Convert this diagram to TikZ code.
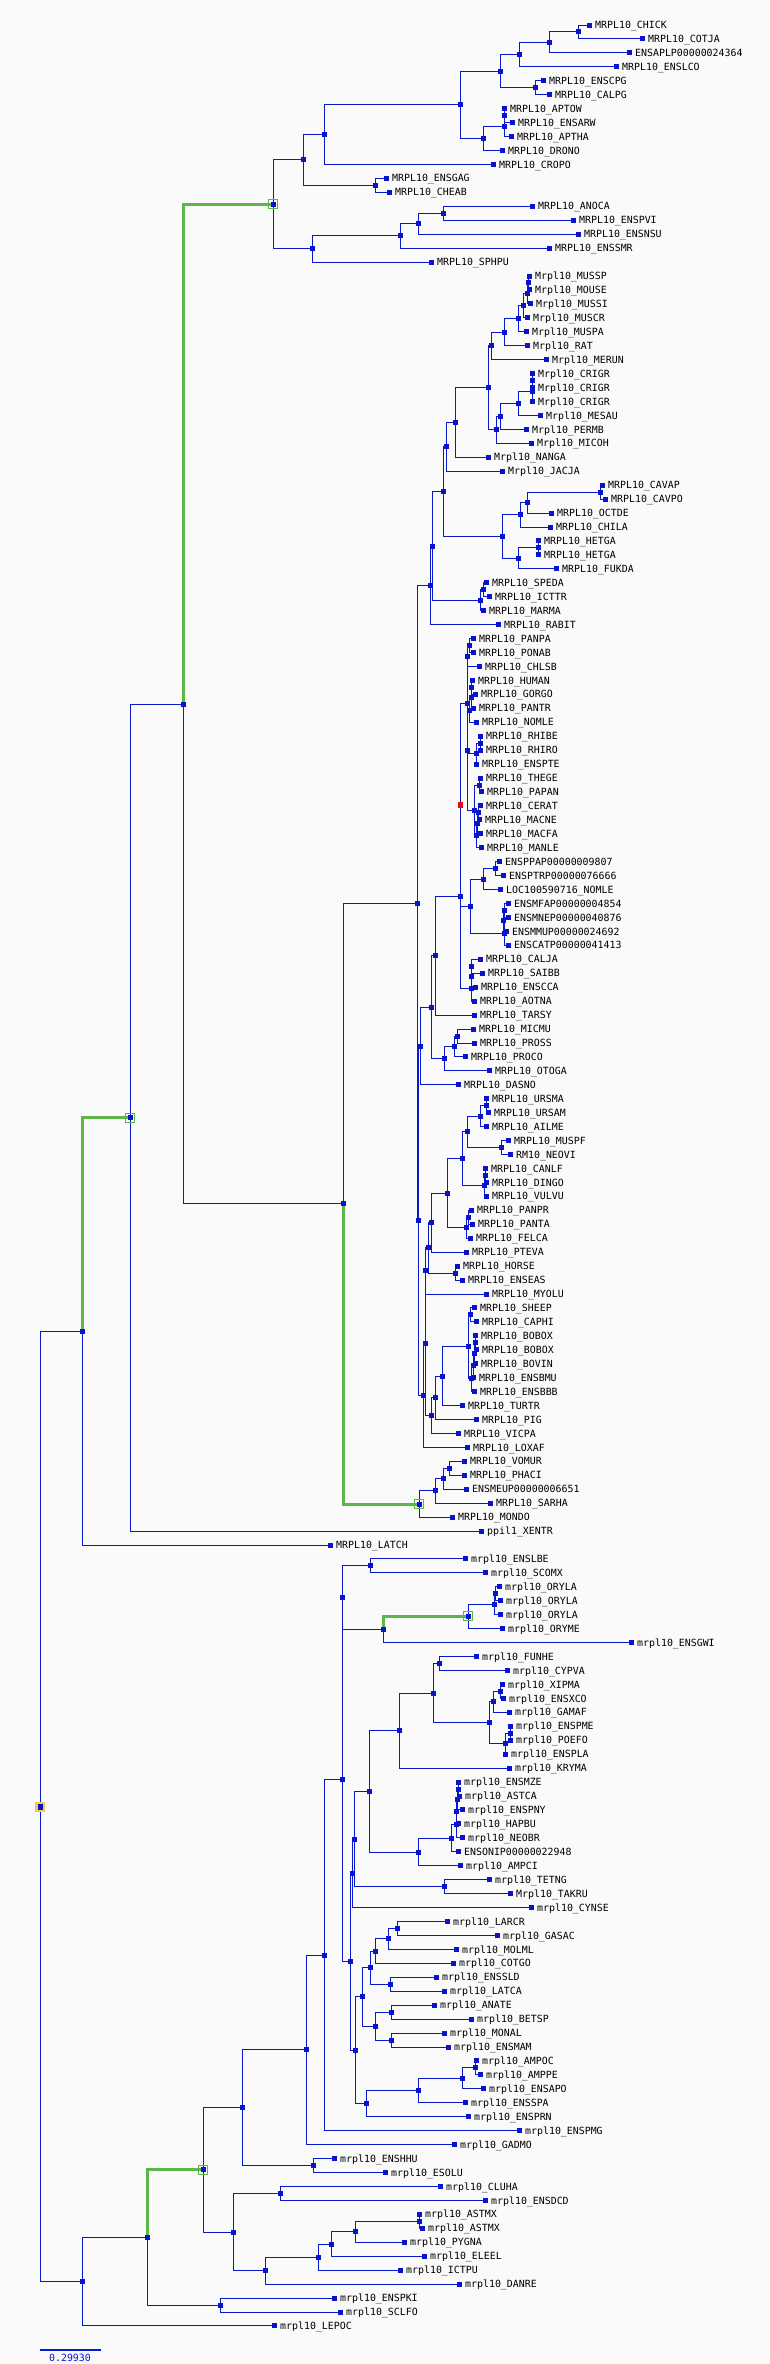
\documentclass[tikz,border=0pt]{standalone}
\usepackage{fontspec}
\newfontfamily\monof{DejaVu Sans Mono}
\pgfdeclarelayer{bg}
\pgfsetlayers{bg,main}
\definecolor{brc}{RGB}{8,24,204}
\definecolor{boxc}{RGB}{8,20,204}
\definecolor{grc}{RGB}{92,182,72}
\definecolor{bgc}{RGB}{250,250,250}
\definecolor{yelc}{RGB}{242,204,80}
\definecolor{redc}{RGB}{235,10,10}
\tikzset{
 br/.style={draw=brc, line width=1pt},
 gbr/.style={draw=grc, line width=3pt},
 nbox/.style={rectangle, fill=boxc, minimum width=5pt, minimum height=5pt, inner sep=0pt, outer sep=0pt},
 lab/.style={anchor=west, inner sep=0pt, font=\monof\fontsize{9.9}{10}\selectfont, text height=7.2pt, text depth=0pt, text=black},
}
\newcommand\leafnode[4]{%
 \expandafter\xdef\csname Y#1\endcsname{#3}%
 \node[nbox] (#1) at (#2,#3) {};%
 \node[lab] (#1t) at (#2+6,#3) {#4};%
}
\newcommand\innode[4]{%
 \edef\tmpa{\csname Y#3\endcsname}\edef\tmpb{\csname Y#4\endcsname}%
 \pgfmathsetmacro\tmpy{(\tmpa+\tmpb)/2}%
 \expandafter\xdef\csname Y#1\endcsname{\tmpy}%
 \node[nbox] (#1) at (#2,\tmpy) {};%
 \begin{pgfonlayer}{bg}\draw[br] (#1.center) |- (#3.center) (#1.center) |- (#4.center);\end{pgfonlayer}%
}
\newcommand\innodeY[5]{%
 \expandafter\xdef\csname Y#1\endcsname{#3}%
 \node[nbox] (#1) at (#2,#3) {};%
 \begin{pgfonlayer}{bg}\draw[br] (#1.center) |- (#4.center) (#1.center) |- (#5.center);\end{pgfonlayer}%
}
\newcommand\addedge[2]{\begin{pgfonlayer}{bg}\draw[br] (#1.center) |- (#2.center);\end{pgfonlayer}}
\newcommand\greenedge[2]{\begin{pgfonlayer}{bg}\draw[gbr] (#1.center) |- (#2.center);\end{pgfonlayer}}
\newcommand\gbox[1]{\node[draw=grc, line width=1pt, minimum size=9pt, inner sep=0pt] (#1g) at (#1.center) {};}
\begin{document}
\begin{tikzpicture}[x=1pt,y=-13.945pt]
\begin{pgfonlayer}{bg}\fill[bgc] (0pt,25pt) rectangle (770pt,-2339pt);\end{pgfonlayer}
\useasboundingbox (0pt,25pt) rectangle (770pt,-2339pt);
% leaves
\leafnode{L0}{589}{0}{MRPL10\_CHICK}
\leafnode{L1}{642}{1}{MRPL10\_COTJA}
\leafnode{L2}{629}{2}{ENSAPLP00000024364}
\leafnode{L3}{616}{3}{MRPL10\_ENSLCO}
\leafnode{L4}{543}{4}{MRPL10\_ENSCPG}
\leafnode{L5}{549}{5}{MRPL10\_CALPG}
\leafnode{L6}{504}{6}{MRPL10\_APTOW}
\leafnode{L7}{512}{7}{MRPL10\_ENSARW}
\leafnode{L8}{511}{8}{MRPL10\_APTHA}
\leafnode{L9}{502}{9}{MRPL10\_DRONO}
\leafnode{L10}{493}{10}{MRPL10\_CROPO}
\leafnode{L11}{386}{11}{MRPL10\_ENSGAG}
\leafnode{L12}{389}{12}{MRPL10\_CHEAB}
\leafnode{L13}{532}{13}{MRPL10\_ANOCA}
\leafnode{L14}{573}{14}{MRPL10\_ENSPVI}
\leafnode{L15}{578}{15}{MRPL10\_ENSNSU}
\leafnode{L16}{549}{16}{MRPL10\_ENSSMR}
\leafnode{L17}{431}{17}{MRPL10\_SPHPU}
\leafnode{L18}{529}{18}{Mrpl10\_MUSSP}
\leafnode{L19}{529}{19}{Mrpl10\_MOUSE}
\leafnode{L20}{530}{20}{Mrpl10\_MUSSI}
\leafnode{L21}{527}{21}{Mrpl10\_MUSCR}
\leafnode{L22}{526}{22}{Mrpl10\_MUSPA}
\leafnode{L23}{527}{23}{Mrpl10\_RAT}
\leafnode{L24}{546}{24}{Mrpl10\_MERUN}
\leafnode{L25}{532}{25}{Mrpl10\_CRIGR}
\leafnode{L26}{532}{26}{Mrpl10\_CRIGR}
\leafnode{L27}{532}{27}{Mrpl10\_CRIGR}
\leafnode{L28}{540}{28}{Mrpl10\_MESAU}
\leafnode{L29}{526}{29}{Mrpl10\_PERMB}
\leafnode{L30}{531}{30}{Mrpl10\_MICOH}
\leafnode{L31}{488}{31}{Mrpl10\_NANGA}
\leafnode{L32}{502}{32}{Mrpl10\_JACJA}
\leafnode{L33}{602}{33}{MRPL10\_CAVAP}
\leafnode{L34}{605}{34}{MRPL10\_CAVPO}
\leafnode{L35}{551}{35}{MRPL10\_OCTDE}
\leafnode{L36}{550}{36}{MRPL10\_CHILA}
\leafnode{L37}{538}{37}{MRPL10\_HETGA}
\leafnode{L38}{538}{38}{MRPL10\_HETGA}
\leafnode{L39}{556}{39}{MRPL10\_FUKDA}
\leafnode{L40}{486}{40}{MRPL10\_SPEDA}
\leafnode{L41}{489}{41}{MRPL10\_ICTTR}
\leafnode{L42}{483}{42}{MRPL10\_MARMA}
\leafnode{L43}{498}{43}{MRPL10\_RABIT}
\leafnode{L44}{473}{44}{MRPL10\_PANPA}
\leafnode{L45}{473}{45}{MRPL10\_PONAB}
\leafnode{L46}{479}{46}{MRPL10\_CHLSB}
\leafnode{L47}{472}{47}{MRPL10\_HUMAN}
\leafnode{L48}{475}{48}{MRPL10\_GORGO}
\leafnode{L49}{473}{49}{MRPL10\_PANTR}
\leafnode{L50}{476}{50}{MRPL10\_NOMLE}
\leafnode{L51}{480}{51}{MRPL10\_RHIBE}
\leafnode{L52}{480}{52}{MRPL10\_RHIRO}
\leafnode{L53}{476}{53}{MRPL10\_ENSPTE}
\leafnode{L54}{480}{54}{MRPL10\_THEGE}
\leafnode{L55}{481}{55}{MRPL10\_PAPAN}
\leafnode{L56}{480}{56}{MRPL10\_CERAT}
\leafnode{L57}{479}{57}{MRPL10\_MACNE}
\leafnode{L58}{480}{58}{MRPL10\_MACFA}
\leafnode{L59}{481}{59}{MRPL10\_MANLE}
\leafnode{L60}{499}{60}{ENSPPAP00000009807}
\leafnode{L61}{503}{61}{ENSPTRP00000076666}
\leafnode{L62}{500}{62}{LOC100590716\_NOMLE}
\leafnode{L63}{508}{63}{ENSMFAP00000004854}
\leafnode{L64}{508}{64}{ENSMNEP00000040876}
\leafnode{L65}{506}{65}{ENSMMUP00000024692}
\leafnode{L66}{508}{66}{ENSCATP00000041413}
\leafnode{L67}{480}{67}{MRPL10\_CALJA}
\leafnode{L68}{482}{68}{MRPL10\_SAIBB}
\leafnode{L69}{475}{69}{MRPL10\_ENSCCA}
\leafnode{L70}{474}{70}{MRPL10\_AOTNA}
\leafnode{L71}{474}{71}{MRPL10\_TARSY}
\leafnode{L72}{473}{72}{MRPL10\_MICMU}
\leafnode{L73}{474}{73}{MRPL10\_PROSS}
\leafnode{L74}{465}{74}{MRPL10\_PROCO}
\leafnode{L75}{489}{75}{MRPL10\_OTOGA}
\leafnode{L76}{458}{76}{MRPL10\_DASNO}
\leafnode{L77}{486}{77}{MRPL10\_URSMA}
\leafnode{L78}{488}{78}{MRPL10\_URSAM}
\leafnode{L79}{486}{79}{MRPL10\_AILME}
\leafnode{L80}{508}{80}{MRPL10\_MUSPF}
\leafnode{L81}{510}{81}{RM10\_NEOVI}
\leafnode{L82}{485}{82}{MRPL10\_CANLF}
\leafnode{L83}{486}{83}{MRPL10\_DINGO}
\leafnode{L84}{486}{84}{MRPL10\_VULVU}
\leafnode{L85}{471}{85}{MRPL10\_PANPR}
\leafnode{L86}{472}{86}{MRPL10\_PANTA}
\leafnode{L87}{470}{87}{MRPL10\_FELCA}
\leafnode{L88}{466}{88}{MRPL10\_PTEVA}
\leafnode{L89}{457}{89}{MRPL10\_HORSE}
\leafnode{L90}{462}{90}{MRPL10\_ENSEAS}
\leafnode{L91}{486}{91}{MRPL10\_MYOLU}
\leafnode{L92}{474}{92}{MRPL10\_SHEEP}
\leafnode{L93}{476}{93}{MRPL10\_CAPHI}
\leafnode{L94}{475}{94}{MRPL10\_BOBOX}
\leafnode{L95}{476}{95}{MRPL10\_BOBOX}
\leafnode{L96}{475}{96}{MRPL10\_BOVIN}
\leafnode{L97}{473}{97}{MRPL10\_ENSBMU}
\leafnode{L98}{474}{98}{MRPL10\_ENSBBB}
\leafnode{L99}{462}{99}{MRPL10\_TURTR}
\leafnode{L100}{476}{100}{MRPL10\_PIG}
\leafnode{L101}{458}{101}{MRPL10\_VICPA}
\leafnode{L102}{467}{102}{MRPL10\_LOXAF}
\leafnode{L103}{464}{103}{MRPL10\_VOMUR}
\leafnode{L104}{464}{104}{MRPL10\_PHACI}
\leafnode{L105}{466}{105}{ENSMEUP00000006651}
\leafnode{L106}{490}{106}{MRPL10\_SARHA}
\leafnode{L107}{452}{107}{MRPL10\_MONDO}
\leafnode{L108}{481}{108}{ppil1\_XENTR}
\leafnode{L109}{330}{109}{MRPL10\_LATCH}
\leafnode{L110}{465}{110}{mrpl10\_ENSLBE}
\leafnode{L111}{485}{111}{mrpl10\_SCOMX}
\leafnode{L112}{499}{112}{mrpl10\_ORYLA}
\leafnode{L113}{500}{113}{mrpl10\_ORYLA}
\leafnode{L114}{500}{114}{mrpl10\_ORYLA}
\leafnode{L115}{502}{115}{mrpl10\_ORYME}
\leafnode{L116}{631}{116}{mrpl10\_ENSGWI}
\leafnode{L117}{476}{117}{mrpl10\_FUNHE}
\leafnode{L118}{507}{118}{mrpl10\_CYPVA}
\leafnode{L119}{502}{119}{mrpl10\_XIPMA}
\leafnode{L120}{503}{120}{mrpl10\_ENSXCO}
\leafnode{L121}{509}{121}{mrpl10\_GAMAF}
\leafnode{L122}{510}{122}{mrpl10\_ENSPME}
\leafnode{L123}{510}{123}{mrpl10\_POEFO}
\leafnode{L124}{505}{124}{mrpl10\_ENSPLA}
\leafnode{L125}{509}{125}{mrpl10\_KRYMA}
\leafnode{L126}{458}{126}{mrpl10\_ENSMZE}
\leafnode{L127}{459}{127}{mrpl10\_ASTCA}
\leafnode{L128}{462}{128}{mrpl10\_ENSPNY}
\leafnode{L129}{458}{129}{mrpl10\_HAPBU}
\leafnode{L130}{462}{130}{mrpl10\_NEOBR}
\leafnode{L131}{458}{131}{ENSONIP00000022948}
\leafnode{L132}{460}{132}{mrpl10\_AMPCI}
\leafnode{L133}{489}{133}{mrpl10\_TETNG}
\leafnode{L134}{510}{134}{Mrpl10\_TAKRU}
\leafnode{L135}{531}{135}{mrpl10\_CYNSE}
\leafnode{L136}{447}{136}{mrpl10\_LARCR}
\leafnode{L137}{497}{137}{mrpl10\_GASAC}
\leafnode{L138}{456}{138}{mrpl10\_MOLML}
\leafnode{L139}{453}{139}{mrpl10\_COTGO}
\leafnode{L140}{436}{140}{mrpl10\_ENSSLD}
\leafnode{L141}{444}{141}{mrpl10\_LATCA}
\leafnode{L142}{434}{142}{mrpl10\_ANATE}
\leafnode{L143}{471}{143}{mrpl10\_BETSP}
\leafnode{L144}{444}{144}{mrpl10\_MONAL}
\leafnode{L145}{448}{145}{mrpl10\_ENSMAM}
\leafnode{L146}{476}{146}{mrpl10\_AMPOC}
\leafnode{L147}{480}{147}{mrpl10\_AMPPE}
\leafnode{L148}{483}{148}{mrpl10\_ENSAPO}
\leafnode{L149}{465}{149}{mrpl10\_ENSSPA}
\leafnode{L150}{468}{150}{mrpl10\_ENSPRN}
\leafnode{L151}{519}{151}{mrpl10\_ENSPMG}
\leafnode{L152}{454}{152}{mrpl10\_GADMO}
\leafnode{L153}{334}{153}{mrpl10\_ENSHHU}
\leafnode{L154}{385}{154}{mrpl10\_ESOLU}
\leafnode{L155}{440}{155}{mrpl10\_CLUHA}
\leafnode{L156}{485}{156}{mrpl10\_ENSDCD}
\leafnode{L157}{419}{157}{mrpl10\_ASTMX}
\leafnode{L158}{422}{158}{mrpl10\_ASTMX}
\leafnode{L159}{404}{159}{mrpl10\_PYGNA}
\leafnode{L160}{424}{160}{mrpl10\_ELEEL}
\leafnode{L161}{400}{161}{mrpl10\_ICTPU}
\leafnode{L162}{459}{162}{mrpl10\_DANRE}
\leafnode{L163}{334}{163}{mrpl10\_ENSPKI}
\leafnode{L164}{340}{164}{mrpl10\_SCLFO}
\leafnode{L165}{274}{165}{mrpl10\_LEPOC}
% birds and reptiles
\innode{a1}{578}{L0}{L1}
\innode{a2}{549}{a1}{L2}
\innode{a3}{519}{a2}{L3}
\innode{a4}{535}{L4}{L5}
\innode{a5}{500}{a3}{a4}
\innode{a6}{504}{L6}{L7}
\innode{a7}{504}{a6}{L8}
\innode{a8}{483}{a7}{L9}
\innode{a9}{460}{a5}{a8}
\innode{a10}{324}{a9}{L10}
\innode{a11}{375}{L11}{L12}
\innode{a12}{303}{a10}{a11}
\innode{b1}{443}{L13}{L14}
\innode{b2}{418}{b1}{L15}
\innode{b3}{400}{b2}{L16}
\innode{b4}{312}{b3}{L17}
\innode{G1}{273}{a12}{b4}
% rodents
\innode{r1}{528}{L18}{L19}
\innode{r2}{527.5}{r1}{L20}
\innode{r3}{523}{r2}{L21}
\innode{r4}{518}{r3}{L22}
\innode{r5}{504}{r4}{L23}
\innode{r6}{491}{r5}{L24}
\innode{c1}{532}{L25}{L26}
\innode{c2}{532}{c1}{L27}
\innode{c3}{518}{c2}{L28}
\innode{c4}{500}{c3}{L29}
\innode{c5}{496}{c4}{L30}
\innode{r7}{488}{r6}{c5}
\innode{r8}{455}{r7}{L31}
\innode{r9}{446}{r8}{L32}
\innode{h1}{600}{L33}{L34}
\innode{h2}{527}{h1}{L35}
\innode{h3}{520}{h2}{L36}
\innode{h4}{538}{L37}{L38}
\innode{h5}{518}{h4}{L39}
\innode{h6}{502}{h3}{h5}
\innode{r10}{443}{r9}{h6}
\innode{s1}{483}{L40}{L41}
\innode{s2}{480}{s1}{L42}
\innode{r11}{432}{r10}{s2}
\innode{g1}{430}{r11}{L43}
% primates
\innode{p1}{469}{L44}{L45}
\innode{p2}{467}{p1}{L46}
\innode{p3}{471.5}{L47}{L48}
\innode{p4}{471}{p3}{L49}
\innode{p5}{469}{p4}{L50}
\innode{ca}{480}{L51}{L52}
\innode{cb}{476}{ca}{L53}
\innode{cc}{479}{L54}{L55}
\innode{cd}{478}{L56}{L57}
\innode{ce}{477}{cd}{L58}
\innode{cg}{476}{ce}{L59}
\innode{ch}{474}{cc}{cg}
\innodeY{Z}{467}{51.99}{cb}{ch}
\innodeY{X}{467}{48.62}{p2}{Z}
\addedge{X}{p5}
\innode{n1}{495}{L60}{L61}
\innode{n2}{483}{n1}{L62}
\innode{e1}{504}{L63}{L64}
\innode{e2}{503}{e1}{L65}
\innode{e3}{504}{e2}{L66}
\innode{Yp}{470}{n2}{e3}
\innode{R}{460}{X}{Yp}
\innode{w1}{471}{L67}{L68}
\innode{w2}{471}{w1}{L69}
\innode{w3}{471}{w2}{L70}
\innode{S}{460}{R}{w3}
\innode{T1}{435}{S}{L71}
\innode{l1}{457}{L72}{L73}
\innode{l2}{454}{l1}{L74}
\innode{l3}{444}{l2}{L75}
\innode{T2}{431}{T1}{l3}
\innode{E1}{420}{T2}{L76}
% laurasiatheria
\innode{k1}{486}{L77}{L78}
\innode{k2}{480}{k1}{L79}
\innode{k3}{501}{L80}{L81}
\innode{k4}{467}{k2}{k3}
\innode{k5}{485.5}{L82}{L83}
\innode{k6}{484}{k5}{L84}
\innode{k7}{462}{k4}{k6}
\innode{f1}{468}{L85}{L86}
\innode{f2}{466}{f1}{L87}
\innode{k8}{447}{k7}{f2}
\innode{N1}{431}{k8}{L88}
\innode{eq}{455}{L89}{L90}
\innode{N2}{428}{N1}{eq}
\innode{N3}{425}{N2}{L91}
\innode{bv1}{470}{L92}{L93}
\innode{bv2}{475}{L94}{L95}
\innode{bv3}{474}{bv2}{L96}
\innode{bv4}{473}{bv3}{L97}
\innode{bv5}{471}{bv4}{L98}
\innode{bv6}{468}{bv1}{bv5}
\innode{bv7}{442}{bv6}{L99}
\innode{bv8}{435}{bv7}{L100}
\innode{bv9}{431}{bv8}{L101}
\innode{N4}{425}{N3}{bv9}
\innode{N5}{423}{N4}{L102}
\innode{Lx}{418}{E1}{N5}
\innode{P}{417}{g1}{Lx}
\innode{m1}{449}{L103}{L104}
\innode{m2}{443}{m1}{L105}
\innode{m3}{435}{m2}{L106}
\innode{m4}{419}{m3}{L107}
\innode{M}{343}{P}{m4}
\innode{T}{183}{G1}{M}
\innode{Tet}{130}{T}{L108}
\innode{Sarc}{82}{Tet}{L109}
% fishes
\innode{A12}{370}{L110}{L111}
\innode{Y0}{495}{L112}{L113}
\innode{Y1}{494}{Y0}{L114}
\innode{ORY}{468}{Y1}{L115}
\innode{A13}{383}{ORY}{L116}
\innode{A10}{342}{A12}{A13}
\innode{F1}{439}{L117}{L118}
\innode{F2}{500}{L119}{L120}
\innode{F3}{493}{F2}{L121}
\innode{F4}{510}{L122}{L123}
\innode{F5}{505}{F4}{L124}
\innode{F6}{489}{F3}{F5}
\innode{F7}{433}{F1}{F6}
\innode{F8}{399}{F7}{L125}
\innode{Q1}{458}{L126}{L127}
\innode{Q2}{457}{Q1}{L128}
\innode{Q3}{456}{Q2}{L129}
\innode{Q4}{456}{Q3}{L130}
\innode{Q5}{451}{Q4}{L131}
\innode{Q6}{418}{Q5}{L132}
\innode{F9}{369}{F8}{Q6}
\innode{TT}{444.5}{L133}{L134}
\innode{F10}{354}{F9}{TT}
\innode{F11}{352}{F10}{L135}
\innode{G1f}{397}{L136}{L137}
\innode{G2f}{388}{G1f}{L138}
\innode{G3f}{375}{G2f}{L139}
\innode{G4f}{390}{L140}{L141}
\innode{G5f}{370}{G3f}{G4f}
\innode{H1f}{391.5}{L142}{L143}
\innode{H2f}{391.5}{L144}{L145}
\innode{H3f}{375}{H1f}{H2f}
\innode{G6f}{362.5}{G5f}{H3f}
\innode{I1}{475}{L146}{L147}
\innode{I2}{462.5}{I1}{L148}
\innode{I3}{418.5}{I2}{L149}
\innode{I4}{366}{I3}{L150}
\innode{G7f}{355.6}{G6f}{I4}
\innode{A11}{350}{F11}{G7f}
\innode{A9}{342}{A10}{A11}
\innode{A8}{324}{A9}{L151}
\innode{A6}{306}{A8}{L152}
\innode{A7}{313}{L153}{L154}
\innode{A4}{242}{A6}{A7}
\innode{CL}{280}{L155}{L156}
\innode{O5}{419}{L157}{L158}
\innode{O4}{355}{O5}{L159}
\innode{O3}{331.5}{O4}{L160}
\innode{O2}{318}{O3}{L161}
\innode{O1}{265}{O2}{L162}
\innode{A5}{233}{CL}{O1}
\innode{A2}{203}{A4}{A5}
\innode{A3}{220}{L163}{L164}
\innode{A1}{147}{A2}{A3}
\innode{Act}{82}{A1}{L165}
\innode{Root}{40}{Sarc}{Act}
% green branches and marked nodes
\greenedge{T}{G1}
\greenedge{M}{m4}
\greenedge{Sarc}{Tet}
\greenedge{A13}{ORY}
\greenedge{A1}{A2}
\gbox{G1}
\gbox{m4}
\gbox{Tet}
\gbox{ORY}
\gbox{A2}
\node[fill=yelc, minimum size=10pt, inner sep=0pt] (RootY) at (Root.center) {};
\node[nbox, minimum height=6pt] (RootB) at (Root.center) {};
\node[nbox, fill=redc, minimum height=6pt] (Rr) at (R.center) {};
% scale bar
\coordinate (sb1) at (40pt,-2324.7pt);
\coordinate (sb2) at (101pt,-2324.7pt);
\draw[brc, line width=2pt] (sb1) -- (sb2);
\node[lab, anchor=center, text=brc] (sbt) at (70pt,-2332.5pt) {0.29930};
\end{tikzpicture}
\end{document}
